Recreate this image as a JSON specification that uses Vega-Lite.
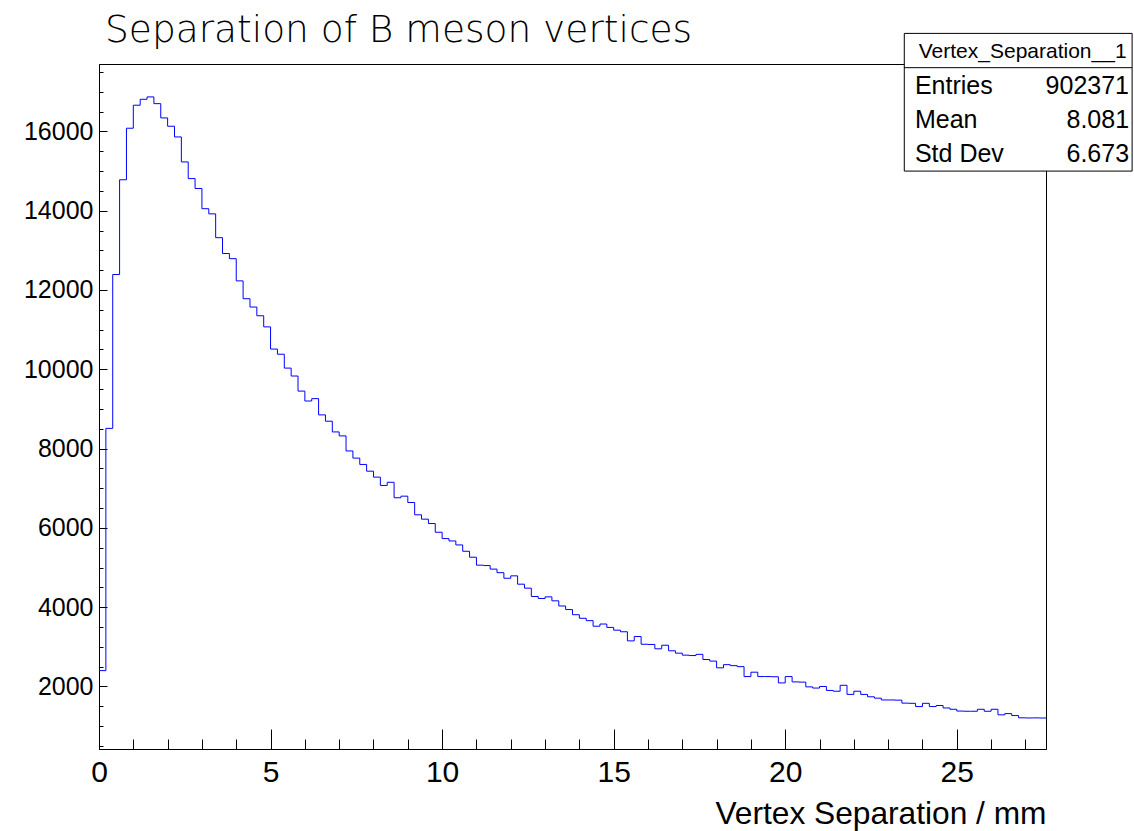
{
  "$schema": "https://vega.github.io/schema/vega-lite/v6.json",
  "width": 947,
  "height": 685,
  "autosize": {"type": "none"},
  "padding": {"left": 99, "top": 64, "right": 88, "bottom": 82},
  "background": "white",
  "config": {
    "view": {"stroke": "black", "strokeWidth": 1},
    "font": "Liberation Sans",
    "axis": {"grid": false, "domainColor": "black", "tickColor": "black", "labelColor": "black", "titleColor": "black", "domainWidth": 1, "tickWidth": 1}
  },
  "title": {"text": "Separation of B meson vertices", "anchor": "start", "frame": "group", "font": "DejaVu Sans", "fontWeight": 200, "fontSize": 37.5, "color": "black", "dx": 6, "offset": -47, "baseline": "alphabetic"},
  "datasets": {
    "hist": [
      {"x0":0,"x1":0.2,"n":2400},{"x0":0.2,"x1":0.4,"n":8510},{"x0":0.4,"x1":0.6,"n":12390},{"x0":0.6,"x1":0.8,"n":14780},
      {"x0":0.8,"x1":1,"n":16080},{"x0":1,"x1":1.2,"n":16660},{"x0":1.2,"x1":1.4,"n":16810},{"x0":1.4,"x1":1.6,"n":16870},
      {"x0":1.6,"x1":1.8,"n":16700},{"x0":1.8,"x1":2,"n":16340},{"x0":2,"x1":2.2,"n":16130},{"x0":2.2,"x1":2.4,"n":15860},
      {"x0":2.4,"x1":2.6,"n":15230},{"x0":2.6,"x1":2.8,"n":14810},{"x0":2.8,"x1":3,"n":14560},{"x0":3,"x1":3.2,"n":14050},
      {"x0":3.2,"x1":3.4,"n":13920},{"x0":3.4,"x1":3.6,"n":13320},{"x0":3.6,"x1":3.8,"n":12920},{"x0":3.8,"x1":4,"n":12790},
      {"x0":4,"x1":4.2,"n":12230},{"x0":4.2,"x1":4.4,"n":11780},{"x0":4.4,"x1":4.6,"n":11570},{"x0":4.6,"x1":4.8,"n":11350},
      {"x0":4.8,"x1":5,"n":11070},{"x0":5,"x1":5.2,"n":10510},{"x0":5.2,"x1":5.4,"n":10380},{"x0":5.4,"x1":5.6,"n":10030},
      {"x0":5.6,"x1":5.8,"n":9830},{"x0":5.8,"x1":6,"n":9450},{"x0":6,"x1":6.2,"n":9200},{"x0":6.2,"x1":6.4,"n":9260},
      {"x0":6.4,"x1":6.6,"n":8850},{"x0":6.6,"x1":6.8,"n":8690},{"x0":6.8,"x1":7,"n":8420},{"x0":7,"x1":7.2,"n":8320},
      {"x0":7.2,"x1":7.4,"n":7940},{"x0":7.4,"x1":7.6,"n":7760},{"x0":7.6,"x1":7.8,"n":7600},{"x0":7.8,"x1":8,"n":7430},
      {"x0":8,"x1":8.2,"n":7280},{"x0":8.2,"x1":8.4,"n":7070},{"x0":8.4,"x1":8.6,"n":7150},{"x0":8.6,"x1":8.8,"n":6760},
      {"x0":8.8,"x1":9,"n":6800},{"x0":9,"x1":9.2,"n":6640},{"x0":9.2,"x1":9.4,"n":6330},{"x0":9.4,"x1":9.6,"n":6220},
      {"x0":9.6,"x1":9.8,"n":6110},{"x0":9.8,"x1":10,"n":5890},{"x0":10,"x1":10.2,"n":5730},{"x0":10.2,"x1":10.4,"n":5670},
      {"x0":10.4,"x1":10.6,"n":5570},{"x0":10.6,"x1":10.8,"n":5410},{"x0":10.8,"x1":11,"n":5260},{"x0":11,"x1":11.2,"n":5060},
      {"x0":11.2,"x1":11.4,"n":5050},{"x0":11.4,"x1":11.6,"n":4960},{"x0":11.6,"x1":11.8,"n":4870},{"x0":11.8,"x1":12,"n":4730},
      {"x0":12,"x1":12.2,"n":4790},{"x0":12.2,"x1":12.4,"n":4580},{"x0":12.4,"x1":12.6,"n":4480},{"x0":12.6,"x1":12.8,"n":4270},
      {"x0":12.8,"x1":13,"n":4220},{"x0":13,"x1":13.2,"n":4260},{"x0":13.2,"x1":13.4,"n":4160},{"x0":13.4,"x1":13.6,"n":4030},
      {"x0":13.6,"x1":13.8,"n":3940},{"x0":13.8,"x1":14,"n":3810},{"x0":14,"x1":14.2,"n":3720},{"x0":14.2,"x1":14.4,"n":3660},
      {"x0":14.4,"x1":14.6,"n":3520},{"x0":14.6,"x1":14.8,"n":3575},{"x0":14.8,"x1":15,"n":3490},{"x0":15,"x1":15.2,"n":3420},
      {"x0":15.2,"x1":15.4,"n":3380},{"x0":15.4,"x1":15.6,"n":3150},{"x0":15.6,"x1":15.8,"n":3260},{"x0":15.8,"x1":16,"n":3065},
      {"x0":16,"x1":16.2,"n":3060},{"x0":16.2,"x1":16.4,"n":2950},{"x0":16.4,"x1":16.6,"n":3040},{"x0":16.6,"x1":16.8,"n":2900},
      {"x0":16.8,"x1":17,"n":2840},{"x0":17,"x1":17.2,"n":2790},{"x0":17.2,"x1":17.4,"n":2780},{"x0":17.4,"x1":17.6,"n":2810},
      {"x0":17.6,"x1":17.8,"n":2680},{"x0":17.8,"x1":18,"n":2640},{"x0":18,"x1":18.2,"n":2470},{"x0":18.2,"x1":18.4,"n":2550},
      {"x0":18.4,"x1":18.6,"n":2525},{"x0":18.6,"x1":18.8,"n":2500},{"x0":18.8,"x1":19,"n":2250},{"x0":19,"x1":19.2,"n":2360},
      {"x0":19.2,"x1":19.4,"n":2250},{"x0":19.4,"x1":19.6,"n":2250},{"x0":19.6,"x1":19.8,"n":2245},{"x0":19.8,"x1":20,"n":2090},
      {"x0":20,"x1":20.2,"n":2250},{"x0":20.2,"x1":20.4,"n":2115},{"x0":20.4,"x1":20.6,"n":2110},{"x0":20.6,"x1":20.8,"n":1990},
      {"x0":20.8,"x1":21,"n":1960},{"x0":21,"x1":21.2,"n":2000},{"x0":21.2,"x1":21.4,"n":1900},{"x0":21.4,"x1":21.6,"n":1880},
      {"x0":21.6,"x1":21.8,"n":2030},{"x0":21.8,"x1":22,"n":1800},{"x0":22,"x1":22.2,"n":1880},{"x0":22.2,"x1":22.4,"n":1800},
      {"x0":22.4,"x1":22.6,"n":1740},{"x0":22.6,"x1":22.8,"n":1705},{"x0":22.8,"x1":23,"n":1660},{"x0":23,"x1":23.2,"n":1660},
      {"x0":23.2,"x1":23.4,"n":1655},{"x0":23.4,"x1":23.6,"n":1580},{"x0":23.6,"x1":23.8,"n":1575},{"x0":23.8,"x1":24,"n":1493},
      {"x0":24,"x1":24.2,"n":1575},{"x0":24.2,"x1":24.4,"n":1493},{"x0":24.4,"x1":24.6,"n":1520},{"x0":24.6,"x1":24.8,"n":1458},
      {"x0":24.8,"x1":25,"n":1425},{"x0":25,"x1":25.2,"n":1380},{"x0":25.2,"x1":25.4,"n":1375},{"x0":25.4,"x1":25.6,"n":1375},
      {"x0":25.6,"x1":25.8,"n":1425},{"x0":25.8,"x1":26,"n":1375},{"x0":26,"x1":26.2,"n":1425},{"x0":26.2,"x1":26.4,"n":1285},
      {"x0":26.4,"x1":26.6,"n":1316},{"x0":26.6,"x1":26.8,"n":1266},{"x0":26.8,"x1":27,"n":1210},{"x0":27,"x1":27.2,"n":1206},
      {"x0":27.2,"x1":27.4,"n":1208},{"x0":27.4,"x1":27.6,"n":1205}
    ],
    "stats": [
      {"label": "Entries", "value": "902371"},
      {"label": "Mean", "value": "8.081"},
      {"label": "Std Dev", "value": "6.673"}
    ],
    "header": [{"name": "Vertex_Separation__1"}]
  },
  "resolve": {"axis": {"x": "independent", "y": "independent"}},
  "layer": [
    {
      "data": {"name": "hist"},
      "transform": [{"fold": ["x0", "x1"], "as": ["edge", "x"]}],
      "mark": {"type": "line", "color": "#0000ff", "strokeWidth": 1, "interpolate": "linear"},
      "encoding": {
        "x": {"field": "x", "type": "quantitative", "scale": {"domain": [0, 27.6], "nice": false, "zero": false},
              "axis": {"orient": "bottom", "values": [0, 5, 10, 15, 20, 25], "ticks": false, "labelFontSize": 30, "labelPadding": 8, "labelFlush": false, "labelOverlap": false,
                       "title": "Vertex Separation / mm", "titleFontSize": 31.7, "titleFontWeight": "normal", "titleAnchor": "end", "titlePadding": 11}},
        "y": {"field": "n", "type": "quantitative", "scale": {"domain": [423, 17700], "nice": false, "zero": false},
              "axis": {"orient": "left", "values": [2000, 4000, 6000, 8000, 10000, 12000, 14000, 16000], "ticks": false, "labelFontSize": 25, "labelPadding": 6, "format": "d", "labelFlush": false, "labelOverlap": false, "title": null}}
      }
    },
    {
      "data": {"name": "hist"},
      "mark": {"type": "point", "opacity": 0},
      "encoding": {
        "x": {"field": "x0", "type": "quantitative", "scale": {"domain": [0, 27.6], "nice": false, "zero": false},
              "axis": {"orient": "bottom", "values": [0, 5, 10, 15, 20, 25], "tickSize": -20, "labels": false, "domain": false, "title": null}},
        "y": {"field": "n", "type": "quantitative", "scale": {"domain": [423, 17700], "nice": false, "zero": false},
              "axis": {"orient": "left", "values": [2000, 4000, 6000, 8000, 10000, 12000, 14000, 16000], "tickSize": -8, "labels": false, "domain": false, "title": null}}
      }
    },
    {
      "data": {"name": "hist"},
      "mark": {"type": "point", "opacity": 0},
      "encoding": {
        "x": {"field": "x0", "type": "quantitative", "scale": {"domain": [0, 27.6], "nice": false, "zero": false},
              "axis": {"orient": "bottom", "values": [1, 2, 3, 4, 6, 7, 8, 9, 11, 12, 13, 14, 16, 17, 18, 19, 21, 22, 23, 24, 26, 27], "tickSize": -10, "labels": false, "domain": false, "title": null}},
        "y": {"field": "n", "type": "quantitative", "scale": {"domain": [423, 17700], "nice": false, "zero": false},
              "axis": {"orient": "left", "values": [500, 1000, 1500, 2500, 3000, 3500, 4500, 5000, 5500, 6500, 7000, 7500, 8500, 9000, 9500, 10500, 11000, 11500, 12500, 13000, 13500, 14500, 15000, 15500, 16500, 17000, 17500], "tickSize": -4, "labels": false, "domain": false, "title": null}}
      }
    },
    {
      "data": {"name": "header"},
      "mark": {"type": "rect", "fill": "white", "stroke": "black", "strokeWidth": 1},
      "encoding": {
        "x": {"datum": 23.47, "type": "quantitative", "axis": null},
        "x2": {"datum": 30.11},
        "y": {"datum": 18472, "type": "quantitative", "axis": null},
        "y2": {"datum": 14999}
      }
    },
    {
      "data": {"name": "header"},
      "mark": {"type": "rule", "color": "black", "strokeWidth": 1},
      "encoding": {
        "x": {"datum": 23.47, "type": "quantitative", "axis": null},
        "x2": {"datum": 30.11},
        "y": {"datum": 17607, "type": "quantitative", "axis": null}
      }
    },
    {
      "data": {"name": "header"},
      "mark": {"type": "text", "align": "center", "baseline": "alphabetic", "fontSize": 21, "color": "black", "font": "Liberation Sans"},
      "encoding": {
        "x": {"datum": 26.92, "type": "quantitative", "axis": null},
        "y": {"datum": 17841, "type": "quantitative", "axis": null},
        "text": {"field": "name"}
      }
    },
    {
      "data": {"name": "stats"},
      "transform": [{"filter": "datum.label === 'Entries'"}],
      "layer": [
        {"mark": {"type": "text", "align": "left", "baseline": "alphabetic", "fontSize": 25, "color": "black", "font": "Liberation Sans"},
         "encoding": {"x": {"datum": 23.78, "type": "quantitative", "axis": null}, "y": {"datum": 16933, "type": "quantitative", "axis": null}, "text": {"field": "label"}}},
        {"mark": {"type": "text", "align": "right", "baseline": "alphabetic", "fontSize": 25, "color": "black", "font": "Liberation Sans"},
         "encoding": {"x": {"datum": 30.02, "type": "quantitative", "axis": null}, "y": {"datum": 16933, "type": "quantitative", "axis": null}, "text": {"field": "value"}}}
      ]
    },
    {
      "data": {"name": "stats"},
      "transform": [{"filter": "datum.label === 'Mean'"}],
      "layer": [
        {"mark": {"type": "text", "align": "left", "baseline": "alphabetic", "fontSize": 25, "color": "black", "font": "Liberation Sans"},
         "encoding": {"x": {"datum": 23.78, "type": "quantitative", "axis": null}, "y": {"datum": 16076, "type": "quantitative", "axis": null}, "text": {"field": "label"}}},
        {"mark": {"type": "text", "align": "right", "baseline": "alphabetic", "fontSize": 25, "color": "black", "font": "Liberation Sans"},
         "encoding": {"x": {"datum": 30.02, "type": "quantitative", "axis": null}, "y": {"datum": 16076, "type": "quantitative", "axis": null}, "text": {"field": "value"}}}
      ]
    },
    {
      "data": {"name": "stats"},
      "transform": [{"filter": "datum.label === 'Std Dev'"}],
      "layer": [
        {"mark": {"type": "text", "align": "left", "baseline": "alphabetic", "fontSize": 25, "color": "black", "font": "Liberation Sans"},
         "encoding": {"x": {"datum": 23.78, "type": "quantitative", "axis": null}, "y": {"datum": 15218, "type": "quantitative", "axis": null}, "text": {"field": "label"}}},
        {"mark": {"type": "text", "align": "right", "baseline": "alphabetic", "fontSize": 25, "color": "black", "font": "Liberation Sans"},
         "encoding": {"x": {"datum": 30.02, "type": "quantitative", "axis": null}, "y": {"datum": 15218, "type": "quantitative", "axis": null}, "text": {"field": "value"}}}
      ]
    }
  ]
}
